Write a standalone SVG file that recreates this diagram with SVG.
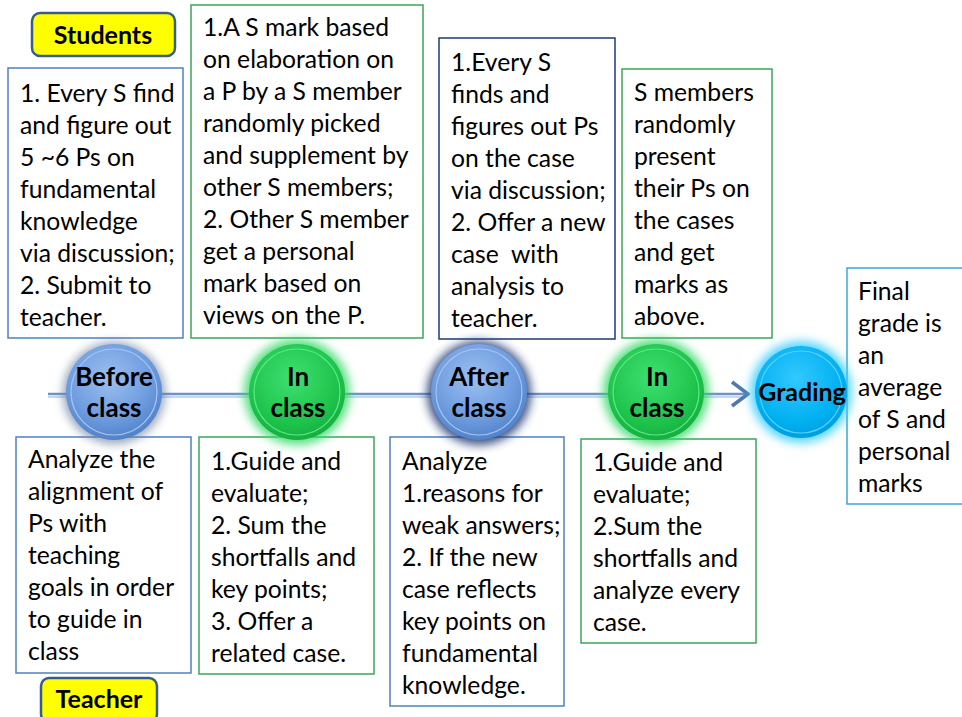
<svg xmlns="http://www.w3.org/2000/svg" width="962" height="717" viewBox="0 0 962 717">
<defs>
<style>
.t{font-family:Lato,"Open Sans","Liberation Sans",sans-serif;font-size:24.7px;fill:#000}
.b{font-family:Lato,"Open Sans","Liberation Sans",sans-serif;font-size:26px;font-weight:bold;fill:#000;text-anchor:middle}
.box{fill:#fff;stroke-width:1.5}
.blue{stroke:#4f81bd}
.green{stroke:#3aa65a}
.navy{stroke:#1f3a7a}
.cyan{stroke:#3aa7d6}
.tag{fill:#ffff00;stroke:#385d8a;stroke-width:2.5}
</style>
<radialGradient id="gBlue" cx="0.45" cy="0.35" r="0.7">
<stop offset="0" stop-color="#9cc0f0"/><stop offset="0.6" stop-color="#6f9de0"/><stop offset="1" stop-color="#4a7cc6"/>
</radialGradient>
<radialGradient id="gGreen" cx="0.45" cy="0.35" r="0.7">
<stop offset="0" stop-color="#3ee070"/><stop offset="0.7" stop-color="#1dc24a"/><stop offset="1" stop-color="#14a83c"/>
</radialGradient>
<radialGradient id="gCyan" cx="0.45" cy="0.35" r="0.7">
<stop offset="0" stop-color="#33c8ff"/><stop offset="0.7" stop-color="#00b0f0"/><stop offset="1" stop-color="#0099dd"/>
</radialGradient>
<filter id="glow" x="-50%" y="-50%" width="200%" height="200%"><feGaussianBlur stdDeviation="5"/></filter>
<marker id="chev" viewBox="0 0 20 30" refX="18" refY="15" markerWidth="20" markerHeight="30" markerUnits="userSpaceOnUse" orient="auto">
<path d="M2,3 L18,15 L2,27" fill="none" stroke="#4f77b0" stroke-width="3.5"/>
</marker>
</defs>
<rect width="962" height="717" fill="#fff"/>

<g id="connectors">
<line x1="48" y1="397" x2="745" y2="397" stroke="#c8d7ec" stroke-width="2"/>
<line x1="48" y1="394" x2="748" y2="394" stroke="#6f94c8" stroke-width="2.5" marker-end="url(#chev)"/>
</g>

<g id="students-label">
<rect class="tag" x="32" y="13" width="143" height="43" rx="8"/>
<text class="b" x="103" y="44" style="font-size:25px">Students</text>
</g>
<g id="teacher-label">
<rect class="tag" x="41" y="678" width="116" height="44" rx="8"/>
<text class="b" x="99" y="708" style="font-size:25px">Teacher</text>
</g>

<g id="s-before">
<rect class="box blue" x="8" y="68" width="175" height="270"/>
<text class="t" x="20" y="102">1. Every S find</text>
<text class="t" x="20" y="134">and figure out</text>
<text class="t" x="20" y="166">5 ~6 Ps on</text>
<text class="t" x="20" y="198">fundamental</text>
<text class="t" x="20" y="230">knowledge</text>
<text class="t" x="20" y="262">via discussion;</text>
<text class="t" x="20" y="294">2. Submit to</text>
<text class="t" x="20" y="326">teacher.</text>
</g>
<g id="s-in1">
<rect class="box green" x="191" y="5" width="232" height="333"/>
<text class="t" x="203" y="36">1.A S mark based</text>
<text class="t" x="203" y="68">on elaboration on</text>
<text class="t" x="203" y="100">a P by a S member</text>
<text class="t" x="203" y="132">randomly picked</text>
<text class="t" x="203" y="164">and supplement by</text>
<text class="t" x="203" y="196">other S members;</text>
<text class="t" x="203" y="228">2. Other S member</text>
<text class="t" x="203" y="260">get a personal</text>
<text class="t" x="203" y="292">mark based on</text>
<text class="t" x="203" y="324">views on the P.</text>
</g>
<g id="s-after">
<rect class="box navy" x="439" y="38" width="176" height="301"/>
<text class="t" x="451" y="71">1.Every S</text>
<text class="t" x="451" y="103">finds and</text>
<text class="t" x="451" y="135">figures out Ps</text>
<text class="t" x="451" y="167">on the case</text>
<text class="t" x="451" y="199">via discussion;</text>
<text class="t" x="451" y="231">2. Offer a new</text>
<text class="t" x="451" y="263" xml:space="preserve">case  with</text>
<text class="t" x="451" y="295">analysis to</text>
<text class="t" x="451" y="327">teacher.</text>
</g>
<g id="s-in2">
<rect class="box green" x="622" y="69" width="150" height="269"/>
<text class="t" x="634" y="101">S members</text>
<text class="t" x="634" y="133">randomly</text>
<text class="t" x="634" y="165">present</text>
<text class="t" x="634" y="197">their Ps on</text>
<text class="t" x="634" y="229">the cases</text>
<text class="t" x="634" y="261">and get</text>
<text class="t" x="634" y="293">marks as</text>
<text class="t" x="634" y="325">above.</text>
</g>
<g id="grading-box">
<rect class="box cyan" x="847" y="268" width="120" height="236"/>
<text class="t" x="858" y="300">Final</text>
<text class="t" x="858" y="332">grade is</text>
<text class="t" x="858" y="364">an</text>
<text class="t" x="858" y="396">average</text>
<text class="t" x="858" y="428">of S and</text>
<text class="t" x="858" y="460">personal</text>
<text class="t" x="858" y="492">marks</text>
</g>

<g id="t-before">
<rect class="box blue" x="16" y="437" width="175" height="236"/>
<text class="t" x="28" y="468">Analyze the</text>
<text class="t" x="28" y="500">alignment of</text>
<text class="t" x="28" y="532">Ps with</text>
<text class="t" x="28" y="564">teaching</text>
<text class="t" x="28" y="596">goals in order</text>
<text class="t" x="28" y="628">to guide in</text>
<text class="t" x="28" y="660">class</text>
</g>
<g id="t-in1">
<rect class="box green" x="199" y="437" width="175" height="237"/>
<text class="t" x="211" y="470">1.Guide and</text>
<text class="t" x="211" y="502">evaluate;</text>
<text class="t" x="211" y="534">2. Sum the</text>
<text class="t" x="211" y="566">shortfalls and</text>
<text class="t" x="211" y="598">key points;</text>
<text class="t" x="211" y="630">3. Offer a</text>
<text class="t" x="211" y="662">related case.</text>
</g>
<g id="t-after">
<rect class="box blue" x="390" y="437" width="174" height="269"/>
<text class="t" x="402" y="470">Analyze</text>
<text class="t" x="402" y="502">1.reasons for</text>
<text class="t" x="402" y="534">weak answers;</text>
<text class="t" x="402" y="566">2. If the new</text>
<text class="t" x="402" y="598">case reflects</text>
<text class="t" x="402" y="630">key points on</text>
<text class="t" x="402" y="662">fundamental</text>
<text class="t" x="402" y="694">knowledge.</text>
</g>
<g id="t-in2">
<rect class="box green" x="581" y="439" width="175" height="204"/>
<text class="t" x="593" y="471">1.Guide and</text>
<text class="t" x="593" y="503">evaluate;</text>
<text class="t" x="593" y="535">2.Sum the</text>
<text class="t" x="593" y="567">shortfalls and</text>
<text class="t" x="593" y="599">analyze every</text>
<text class="t" x="593" y="631">case.</text>
</g>

<g id="c-before">
<circle cx="114" cy="393" r="51" fill="#6a7f9e" opacity="0.7" filter="url(#glow)"/>
<circle cx="114" cy="392" r="48" fill="url(#gBlue)"/>
<circle cx="114" cy="392" r="43" fill="none" stroke="#a8c6ef" stroke-width="1.2"/>
<text class="b" x="114" y="386">Before</text>
<text class="b" x="114" y="417">class</text>
</g>
<g id="c-in1">
<circle cx="297" cy="392" r="53" fill="#2fd863" opacity="0.8" filter="url(#glow)"/>
<circle cx="297" cy="392" r="48" fill="url(#gGreen)"/>
<circle cx="297" cy="392" r="43" fill="none" stroke="#5fe88a" stroke-width="1.2"/>
<text class="b" x="298" y="386">In</text>
<text class="b" x="298" y="417">class</text>
</g>
<g id="c-after">
<circle cx="479" cy="393" r="52" fill="#1f3570" opacity="0.85" filter="url(#glow)"/>
<circle cx="479" cy="392" r="48" fill="url(#gBlue)"/>
<circle cx="479" cy="392" r="43" fill="none" stroke="#a8c6ef" stroke-width="1.2"/>
<text class="b" x="479" y="386">After</text>
<text class="b" x="479" y="417">class</text>
</g>
<g id="c-in2">
<circle cx="656" cy="392" r="53" fill="#2fd863" opacity="0.8" filter="url(#glow)"/>
<circle cx="656" cy="392" r="48" fill="url(#gGreen)"/>
<circle cx="656" cy="392" r="43" fill="none" stroke="#5fe88a" stroke-width="1.2"/>
<text class="b" x="657" y="386">In</text>
<text class="b" x="657" y="417">class</text>
</g>
<g id="c-grading">
<circle cx="801" cy="392" r="51" fill="#33ccff" opacity="0.8" filter="url(#glow)"/>
<circle cx="801" cy="392" r="46" fill="url(#gCyan)"/>
<circle cx="801" cy="392" r="41" fill="none" stroke="#55d0ff" stroke-width="1.2"/>
<text class="b" x="802" y="401" style="font-size:25px">Grading</text>
</g>
</svg>
